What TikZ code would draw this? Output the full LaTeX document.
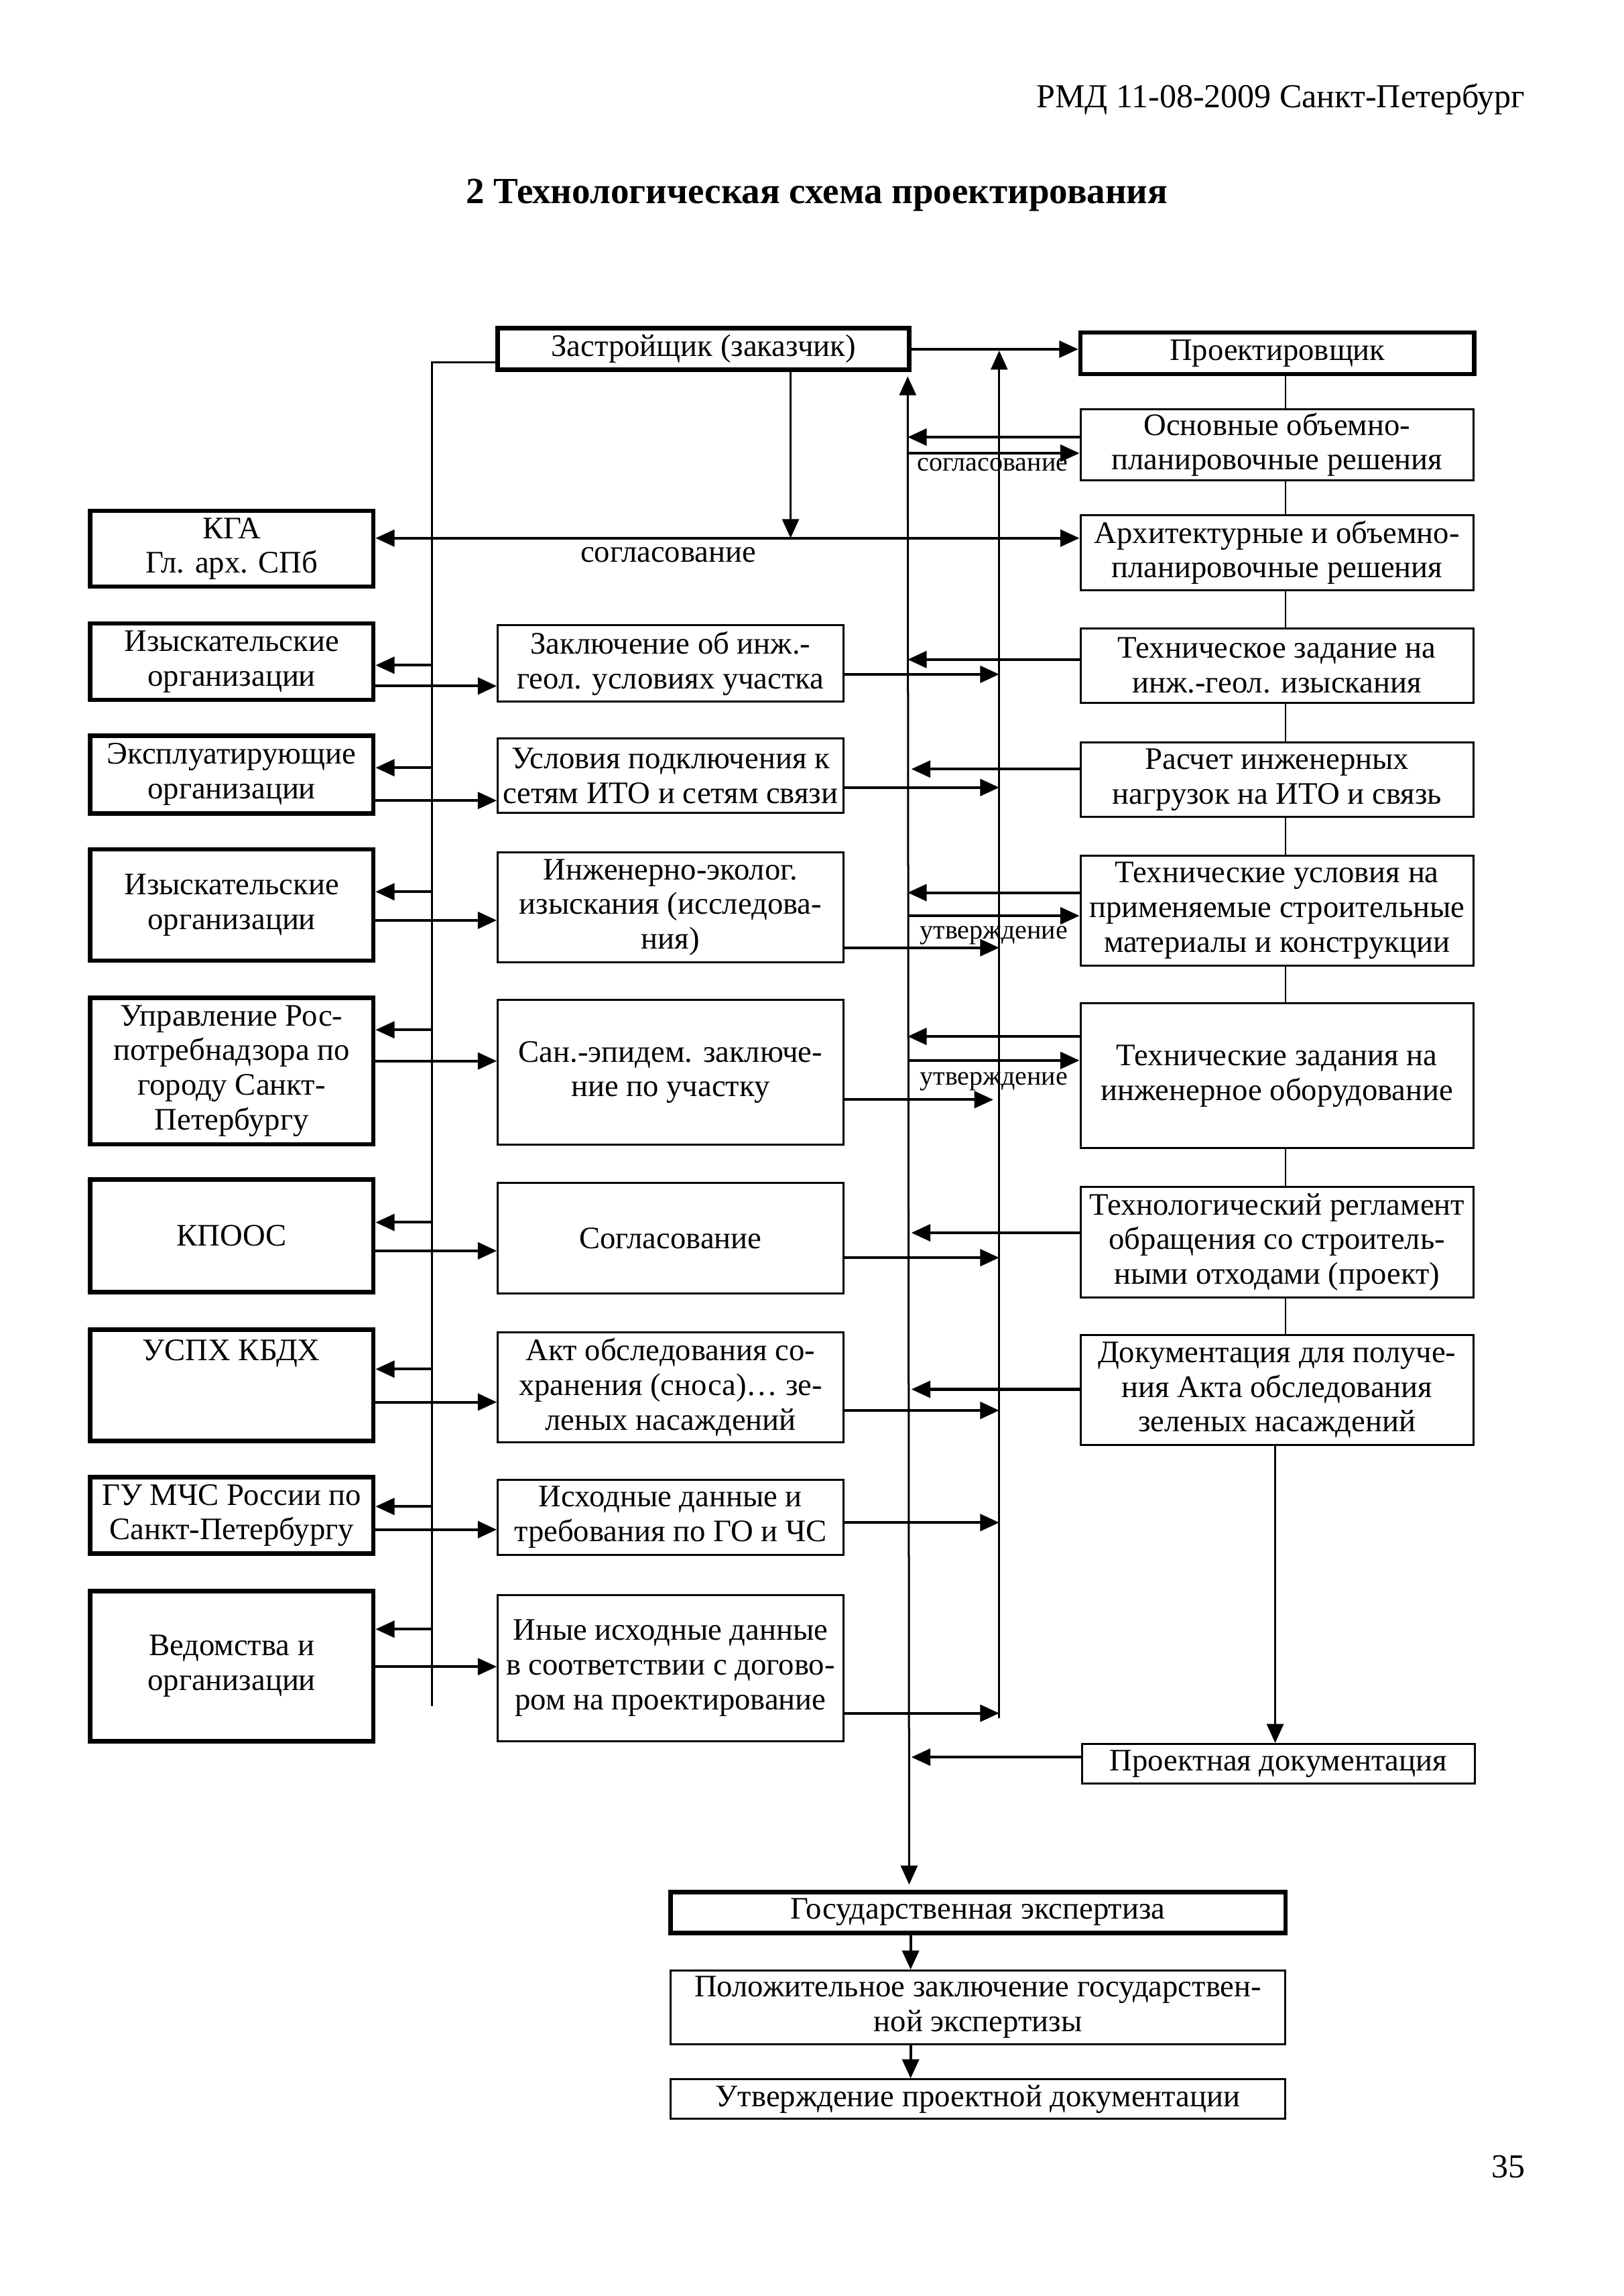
\documentclass[tikz,border=0pt]{standalone}
\usepackage{fontspec}
\setmainfont{Liberation Serif}
\usetikzlibrary{arrows.meta}
\newcommand\bx[7]{\node[#1, minimum width={(#5-#3)*0.655pt}, minimum height={(#6-#4)*0.655pt}] (#2) at ({(#3+#5)/2},{(#4+#6)/2}) {#7};}
\newcommand\harr[3]{\draw[arr] (#1 |- 0,#3) -- (#2 |- 0,#3);}
\begin{document}
\begin{tikzpicture}[x=0.655pt, y=-0.655pt,
  tx/.style={font=\fontsize{14}{15.5}\selectfont, align=center},
  thinbox/.style={draw, line width=0.9pt, inner sep=0.5pt, tx},
  thickbox/.style={draw, line width=2pt, inner sep=0.5pt, tx},
  arr/.style={line width=1.2pt, -{Triangle[length=8.5pt,width=7.5pt]}},
  vline/.style={line width=0.9pt},
  lbl/.style={font=\fontsize{12}{14}\selectfont, anchor=base, inner sep=0pt}]
\fill[white] (0,0) rectangle (1109,1568);
\useasboundingbox (0,0) rectangle (1109,1568);

% header, title, page number
\node[anchor=base east, inner sep=0pt, font=\fontsize{15}{18}\selectfont] (hdr) at (1042,73.5) {РМД 11-08-2009 Санкт-Петербург};
\node[anchor=base, inner sep=0pt, font=\fontsize{16.5}{19}\selectfont\bfseries] (ttl) at (558,139) {2 Технологическая схема проектирования};
\node[anchor=base east, inner sep=0pt, font=\fontsize{15}{18}\selectfont] (pg) at (1042,1487) {35};

% top boxes
\bx{thickbox}{zas}{340}{224}{621}{252.6}{\raisebox{-1.5pt}{Застройщик (заказчик)}}
\bx{thickbox}{proj}{738}{227}{1007}{255.5}{\raisebox{-1.5pt}{Проектировщик}}

% right column
\bx{thinbox}{r1}{738}{279.3}{1006.5}{328}{Основные объемно-\\планировочные решения}
\bx{thinbox}{r2}{738}{351.7}{1006.5}{403}{Архитектурные и объемно-\\планировочные решения}
\bx{thinbox}{r3}{738}{429}{1006.5}{480}{Техническое задание на\\инж.-геол. изыскания}
\bx{thinbox}{r4}{738}{506.8}{1006.5}{558}{Расчет инженерных\\нагрузок на ИТО и связь}
\bx{thinbox}{r5}{738}{584.3}{1006.5}{659.3}{Технические условия на\\применяемые строительные\\материалы и конструкции}
\bx{thinbox}{r6}{738}{685.3}{1006.5}{784.2}{Технические задания на\\инженерное оборудование}
\bx{thinbox}{r7}{738}{810.4}{1006.5}{886.1}{Технологический регламент\\обращения со строитель-\\ными отходами (проект)}
\bx{thinbox}{r8}{738}{911.5}{1006.5}{986.8}{Документация для получе-\\ния Акта обследования\\зеленых насаждений}
\bx{thinbox}{r9}{739}{1191}{1007.5}{1218}{\raisebox{-1.5pt}{Проектная документация}}

% left column
\bx{thickbox}{l1}{61.5}{348.8}{255}{400.6}{КГА\\Гл. арх. СПб}
\bx{thickbox}{l2}{61.5}{425.8}{255}{478}{Изыскательские\\организации}
\bx{thickbox}{l3}{61.5}{502.3}{255}{555.4}{Эксплуатирующие\\организации}
\bx{thickbox}{l4}{61.5}{580}{255}{656}{Изыскательские\\организации}
\bx{thickbox}{l5}{61.5}{681.3}{255}{781.4}{Управление Рос-\\потребнадзора по\\городу Санкт-\\Петербургу}
\bx{thickbox}{l6}{61.5}{805.4}{255}{882.5}{КПООС}
\bx{thickbox}{l7}{61.5}{908}{255}{984.2}{}
\node[tx, anchor=base, inner sep=0pt] (l7t) at (158,929) {УСПХ КБДХ};
\bx{thickbox}{l8}{61.5}{1008.7}{255}{1061}{ГУ МЧС России по\\Санкт-Петербургу}
\bx{thickbox}{l9}{61.5}{1086.5}{255}{1189}{Ведомства и\\организации}

% middle column
\bx{thinbox}{m1}{340}{427}{576}{479}{Заключение об инж.-\\геол. условиях участка}
\bx{thinbox}{m2}{340}{504.5}{576}{555}{Условия подключения к\\сетям ИТО и сетям связи}
\bx{thinbox}{m3}{340}{582.3}{576}{657}{Инженерно-эколог.\\изыскания (исследова-\\ния)}
\bx{thinbox}{m4}{340}{683}{576}{781.6}{Сан.-эпидем. заключе-\\ние по участку}
\bx{thinbox}{m5}{340}{808}{576}{883.4}{Согласование}
\bx{thinbox}{m6}{340}{909.7}{576}{985}{Акт обследования со-\\хранения (сноса)… зе-\\леных насаждений}
\bx{thinbox}{m7}{340}{1010.5}{576}{1062}{Исходные данные и\\требования по ГО и ЧС}
\bx{thinbox}{m8}{340}{1089.3}{576}{1189}{Иные исходные данные\\в соответствии с догово-\\ром на проектирование}

% bottom
\bx{thickbox}{b1}{458}{1292}{878}{1320}{\raisebox{-1.5pt}{Государственная экспертиза}}
\bx{thinbox}{b2}{458}{1345.7}{878}{1396}{Положительное заключение государствен-\\ной экспертизы}
\bx{thinbox}{b3}{458}{1420}{878}{1447}{\raisebox{-1.5pt}{Утверждение проектной документации}}

% coordinates of the vertical lines
\coordinate (busT) at (295,247.3);
\coordinate (busB) at (295,1165.3);
\coordinate (v1) at (620,257);
\coordinate (v1b) at (621,1287);
\coordinate (v1s) at (622.5,0);
\coordinate (v2) at (682.5,239.5);
\coordinate (v2b) at (682.5,1173.5);
\coordinate (v2s) at (678.5,0);
\coordinate (zd) at (540,367.5);
\coordinate (sp) at (878,0);
\coordinate (dl) at (871,0);
\coordinate (bxc) at (622,0);

% verticals
\draw[vline] (zas.west |- busT) -- (busT) -- (busB);
\draw[vline, {Triangle[length=8.5pt,width=7.5pt]}-{Triangle[length=8.5pt,width=7.5pt]}] (v1) -- (v1b);
\draw[vline, -{Triangle[length=8.5pt,width=7.5pt]}] (v2b) -- (v2);
\draw[vline, -{Triangle[length=8.5pt,width=7.5pt]}] (zas.south -| zd) -- (zd);

% top arrows
\harr{zas.east}{proj.west}{238.5}
\draw[line width=1.2pt, {Triangle[length=8.5pt,width=7.5pt]}-{Triangle[length=8.5pt,width=7.5pt]}] (l1.east |- zd) -- (r2.west |- zd);
\node[lbl, font=\fontsize{14}{16}\selectfont] (sg1) at (456.5,383.8) {согласование};

% right boxes -> V1
\harr{r1.west}{v1}{298.5}
\harr{r3.west}{v1}{450.4}
\harr{r4.west}{v1s}{525.2}
\harr{r5.west}{v1}{609.6}
\harr{r6.west}{v1}{707.8}
\harr{r7.west}{v1s}{841.9}
\harr{r8.west}{v1s}{948.8}
\harr{r9.west}{v1s}{1200}
% V1 -> right boxes
\harr{v1}{r1.west}{309.5}
\harr{v1}{r5.west}{625.4}
\harr{v1}{r6.west}{724.2}
\node[lbl] (sg2) at (678,321.4) {согласование};
\node[lbl] (ut1) at (678.8,641) {утверждение};
\node[lbl] (ut2) at (678.8,741) {утверждение};

% middle boxes -> V2
\harr{m1.east}{v2}{460.5}
\harr{m2.east}{v2}{537.8}
\harr{m3.east}{v2}{647.2}
\harr{m4.east}{v2s}{751}
\harr{m5.east}{v2}{858.9}
\harr{m6.east}{v2}{963.2}
\harr{m7.east}{v2}{1039.8}
\harr{m8.east}{v2}{1170}

% bus -> left boxes
\harr{busT}{l2.east}{454.3}
\harr{busT}{l3.east}{524.3}
\harr{busT}{l4.east}{609}
\harr{busT}{l5.east}{703.3}
\harr{busT}{l6.east}{834.8}
\harr{busT}{l7.east}{935}
\harr{busT}{l8.east}{1028.8}
\harr{busT}{l9.east}{1112.6}
% left boxes -> middle boxes
\harr{l2.east}{m1.west}{468.5}
\harr{l3.east}{m2.west}{546.7}
\harr{l4.east}{m3.west}{628.5}
\harr{l5.east}{m4.west}{724.6}
\harr{l6.east}{m5.west}{854.2}
\harr{l7.east}{m6.west}{957.5}
\harr{l8.east}{m7.west}{1044.6}
\harr{l9.east}{m8.west}{1138.2}

% spine of the designer column
\draw[line width=0.7pt] (proj.south -| sp) -- (r1.north -| sp);
\draw[line width=0.7pt] (r1.south -| sp) -- (r2.north -| sp);
\draw[line width=0.7pt] (r2.south -| sp) -- (r3.north -| sp);
\draw[line width=0.7pt] (r3.south -| sp) -- (r4.north -| sp);
\draw[line width=0.7pt] (r4.south -| sp) -- (r5.north -| sp);
\draw[line width=0.7pt] (r5.south -| sp) -- (r6.north -| sp);
\draw[line width=0.7pt] (r6.south -| sp) -- (r7.north -| sp);
\draw[line width=0.7pt] (r7.south -| sp) -- (r8.north -| sp);
\draw[vline, -{Triangle[length=8.5pt,width=7.5pt]}] (r8.south -| dl) -- (r9.north -| dl);

% bottom chain
\draw[arr] (b1.south -| bxc) -- (b2.north -| bxc);
\draw[arr] (b2.south -| bxc) -- (b3.north -| bxc);
\end{tikzpicture}
\end{document}
